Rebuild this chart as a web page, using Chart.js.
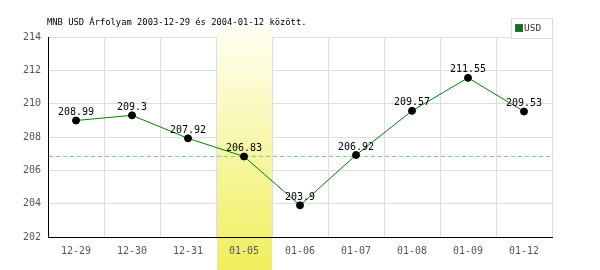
<html>
<head>
<meta charset="utf-8"/>
<title>MNB USD</title>
<script src="https://cdn.jsdelivr.net/npm/chart.js@4/dist/chart.umd.min.js"></script>
<style>
  body { margin:0; background:#fff; }
  #wrap { width:600px; height:270px; }
</style>
</head>
<body>
<div id="wrap"><canvas id="myChart" width="600" height="270"></canvas></div>
<script>
// data
var days = ['12-29','12-30','12-31','01-05','01-06','01-07','01-08','01-09','01-12'];
var usd = [208.99, 209.3, 207.92, 206.83, 203.9, 206.92, 209.57, 211.55, 209.53];
var seriesName = 'USD';
var titleText = 'MNB USD \u00c1rfolyam 2003-12-29 \u00e9s 2004-01-12 k\u00f6z\u00f6tt.';
var highlightDay = '01-05';
var refLine = 206.83;

var mono = '"DejaVu Sans Mono", "Liberation Mono", monospace';

var extras = {
    id: 'extras',
    beforeDatasetsDraw: function(chart) {
        var c = chart.ctx, x = chart.scales.x, y = chart.scales.y, a = chart.chartArea;
        // yellow band behind highlighted day (covers grid, under labels)
        var i = days.indexOf(highlightDay);
        var w = x.getPixelForValue(1) - x.getPixelForValue(0);
        var cx = x.getPixelForValue(i);
        var g = c.createLinearGradient(0, 28, 0, chart.height);
        g.addColorStop(0, '#fffff2');
        g.addColorStop(1, '#f0ee5c');
        c.save();
        c.fillStyle = g;
        c.fillRect(cx - w / 2 + 1, 28, w - 1, chart.height - 28);
        // x axis line again on top of the band
        c.strokeStyle = '#000';
        c.lineWidth = 1;
        c.beginPath();
        c.moveTo(a.left, Math.round(a.bottom) + 0.5);
        c.lineTo(a.right, Math.round(a.bottom) + 0.5);
        c.stroke();
        c.restore();
        // dashed reference line
        var ry = Math.round(y.getPixelForValue(refLine)) + 0.5;
        c.save();
        c.strokeStyle = '#88cc88';
        c.lineWidth = 1;
        c.setLineDash([4, 3]);
        c.beginPath();
        c.moveTo(a.left + 1, ry);
        c.lineTo(a.right, ry);
        c.stroke();
        c.restore();
    },
    afterDraw: function(chart) {
        var c = chart.ctx, meta = chart.getDatasetMeta(0);
        c.save();
        // data labels
        c.font = '10px ' + mono;
        c.fillStyle = '#000';
        c.textAlign = 'center';
        c.textBaseline = 'bottom';
        meta.data.forEach(function(p, k) {
            c.fillText(String(usd[k]), p.x, p.y - 3);
        });
        // title
        c.font = '8.8px ' + mono;
        c.textAlign = 'left';
        c.textBaseline = 'alphabetic';
        c.fillText(titleText, 47, 25);
        // legend box
        c.strokeStyle = '#dddddd';
        c.lineWidth = 1;
        c.fillStyle = '#fff';
        c.fillRect(511.5, 18.5, 41, 20);
        c.strokeRect(511.5, 18.5, 41, 20);
        c.fillStyle = '#008000';
        c.fillRect(516, 25, 6, 6);
        c.strokeStyle = '#555';
        c.strokeRect(515.5, 24.5, 7, 7);
        c.fillStyle = '#333';
        c.font = '9.5px ' + mono;
        c.textBaseline = 'middle';
        c.fillText(seriesName, 524, 29);
        c.restore();
    }
};

new Chart(document.getElementById('myChart'), {
    type: 'line',
    data: {
        labels: days,
        datasets: [{
            label: seriesName,
            data: usd,
            borderColor: '#008000',
            borderWidth: 1,
            pointBackgroundColor: '#000',
            pointBorderColor: '#000',
            pointRadius: 3.5,
            tension: 0
        }]
    },
    options: {
        responsive: false,
        animation: false,
        layout: { padding: { left: 0, top: 37, right: 48, bottom: 0 } },
        plugins: { legend: { display: false }, title: { display: false }, tooltip: { enabled: false } },
        scales: {
            x: {
                offset: true,
                grid: { color: '#dddddd', offset: true, drawTicks: false },
                border: { color: '#000', width: 1 },
                ticks: { z: 1, color: '#555', font: { family: mono, size: 10 }, padding: 8 },
                afterFit: function(s) { s.height = 33; }
            },
            y: {
                min: 202, max: 214,
                grid: { color: '#dddddd', drawTicks: false },
                border: { color: '#000', width: 1 },
                ticks: { stepSize: 2, color: '#555', font: { family: mono, size: 10 }, padding: 7 },
                afterFit: function(s) { s.width = 48; }
            }
        }
    },
    plugins: [extras]
});
</script>
</body>
</html>
